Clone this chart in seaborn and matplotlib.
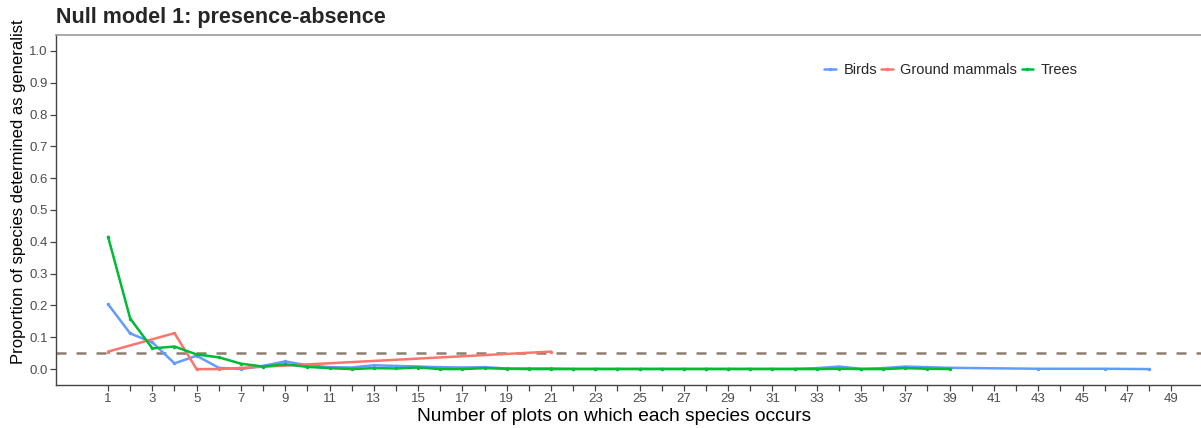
import matplotlib
matplotlib.use("Agg")
import matplotlib.pyplot as plt
import seaborn as sns
import pandas as pd
import numpy as np
from matplotlib.lines import Line2D

# ---- data ----
birds_x = list(range(1, 40)) + [43, 46, 48]
birds_y = [0.204, 0.112, 0.084, 0.018, 0.042, 0.004, 0.000, 0.010, 0.024, 0.012,
           0.006, 0.005, 0.012, 0.010, 0.008, 0.006, 0.005, 0.006, 0.002, 0.002,
           0.002, 0.001, 0.001, 0.001, 0.001, 0.001, 0.001, 0.001, 0.001, 0.001,
           0.001, 0.001, 0.003, 0.008, 0.001, 0.003, 0.008, 0.006, 0.004,
           0.001, 0.001, 0.000]

mammals_x = [1, 4, 5, 6, 21]
mammals_y = [0.055, 0.113, 0.000, 0.000, 0.055]

trees_x = list(range(1, 40))
trees_y = [0.416, 0.159, 0.065, 0.071, 0.046, 0.037, 0.017, 0.008, 0.015, 0.007,
           0.003, 0.000, 0.003, 0.002, 0.005, 0.000, 0.000, 0.003, 0.001, 0.000,
           0.000, 0.000, 0.000, 0.000, 0.000, 0.000, 0.000, 0.000, 0.000, 0.000,
           0.000, 0.000, 0.000, 0.001, 0.000, 0.000, 0.003, 0.001, 0.000]

groups = ["Birds", "Ground mammals", "Trees"]
colors = ["#619CFF", "#F8766D", "#00BA38"]
threshold = 0.05

title = "Null model 1: presence-absence"
xlabel = "Number of plots on which each species occurs"
ylabel = "Proportion of species determined as generalist"

df = pd.concat([
    pd.DataFrame({"x": birds_x, "y": birds_y, "group": "Birds"}),
    pd.DataFrame({"x": mammals_x, "y": mammals_y, "group": "Ground mammals"}),
    pd.DataFrame({"x": trees_x, "y": trees_y, "group": "Trees"}),
])

sns.set_theme(style="white")
plt.rcParams["font.family"] = ["Liberation Sans", "DejaVu Sans"]

fig = plt.figure(figsize=(12.01, 4.28), dpi=100)
ax = fig.add_axes([56 / 1201, 1 - 385 / 428, 1 - 56 / 1201, (385 - 35) / 428])

ax.axhline(threshold, color="#8C7F6E", lw=1.8, dashes=(4, 4), zorder=1)

sns.lineplot(data=df, x="x", y="y", hue="group", hue_order=groups,
             palette=dict(zip(groups, colors)), ax=ax, linewidth=1.8,
             marker="o", markersize=2.5, markeredgewidth=0, legend=False,
             zorder=3)

ax.set_xlim(-1.35, 50.35)
ax.set_ylim(-0.05, 1.05)
ax.set_xticks(range(1, 50))
ax.set_xticklabels([str(i) if i % 2 == 1 else "" for i in range(1, 50)])
ax.set_yticks(np.round(np.arange(0, 1.01, 0.1), 1))
ax.set_yticklabels([f"{v:.1f}" for v in np.arange(0, 1.01, 0.1)])

for s in ["left", "bottom"]:
    ax.spines[s].set_color("#444444")
    ax.spines[s].set_linewidth(1.0)
ax.spines["top"].set_color("#999999")
ax.spines["top"].set_linewidth(1.2)
ax.spines["right"].set_visible(False)

ax.tick_params(axis="both", which="major", length=4, width=0.9, color="#444444",
               labelcolor="#4D4D4D", labelsize=9.5, pad=2, bottom=True, left=True)

ax.set_xlabel(xlabel, fontsize=13.8, color="black")
ax.set_ylabel(ylabel, fontsize=12, color="black")
ax.xaxis.set_label_coords((614 - 56) / 1145, (385 - 408) / 350)
ax.yaxis.set_label_coords((26 - 56) / 1145, (385 - 192) / 350)
fig.text(56 / 1201, 1 - 17 / 428, title, fontsize=15.5, fontweight="bold",
         ha="left", va="center")

handles = [Line2D([0], [0], color=c, lw=1.8, marker="o", markersize=2.5,
                  markeredgewidth=0) for c in colors]
leg = fig.legend(handles, groups, loc="center", ncol=3,
                 bbox_to_anchor=(951 / 1201, 1 - 70 / 428), frameon=False,
                 fontsize=10.5, handlelength=0.8, handletextpad=0.5,
                 columnspacing=0.3)

fig.savefig("out.png", dpi=100)
